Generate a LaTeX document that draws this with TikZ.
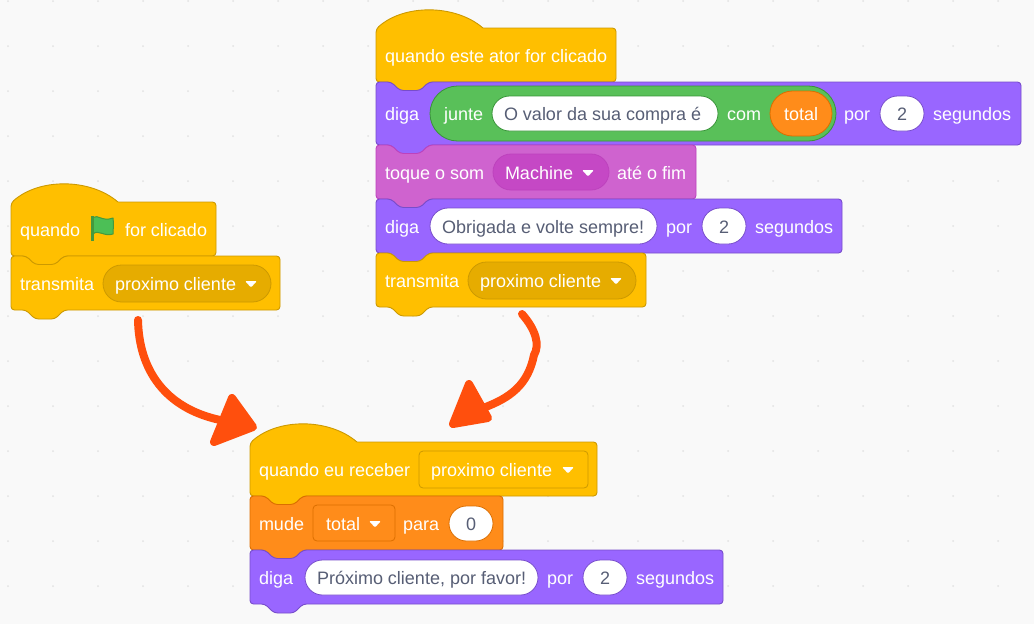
\documentclass[tikz,border=0pt]{standalone}
\usepackage{fontspec}
\setmainfont{Liberation Sans}
\definecolor{bgc}{HTML}{F9F9F9}
\definecolor{dotc}{HTML}{E2E2E2}
\definecolor{yel}{HTML}{FFBF00}
\definecolor{yels}{HTML}{CC9900}
\definecolor{yeli}{HTML}{E6AC00}
\definecolor{pur}{HTML}{9966FF}
\definecolor{purs}{HTML}{774DCB}
\definecolor{snd}{HTML}{CF63CF}
\definecolor{snds}{HTML}{BD42BD}
\definecolor{sndi}{HTML}{C548C5}
\definecolor{opg}{HTML}{59C059}
\definecolor{opgs}{HTML}{389438}
\definecolor{var}{HTML}{FF8C1A}
\definecolor{vars}{HTML}{DB6E00}
\definecolor{valc}{HTML}{575E75}
\definecolor{mark}{HTML}{FF4F0D}
\definecolor{flagf}{HTML}{4CBF56}
\definecolor{flags}{HTML}{45993D}
\tikzset{
 x=1pt,y=-1pt,
 lbl/.style={anchor=base west,inner sep=0pt,outer sep=0pt,text=white,font=\fontsize{18}{20}\selectfont},
 val/.style={lbl,text=valc},
 pillshape/.style={inner sep=0pt,outer sep=0pt,line width=0.8pt},
 blockline/.style={line width=0.9pt,line join=round},
 mymark/.style={draw=mark,line width=8pt,line cap=round,line join=round},
 myhead/.style={draw=mark,fill=mark,line width=8pt,line join=round},
}
% block: fill, stroke, x, top, right, bottom
\newcommand{\blk}[6]{\draw[blockline,fill=#1,draw=#2,rounded corners=3.5pt]
 (#3,#4+20) -- (#3,#4) -- (#3+15,#4) -- (#3+24,#4+8.5) -- (#3+44,#4+8.5) -- (#3+53,#4) -- (#5,#4) -- (#5,#6)
 -- (#3+53,#6) -- (#3+44,#6+9) -- (#3+24,#6+9) -- (#3+15,#6) -- (#3,#6) -- cycle;}
\newcommand{\hatblk}[6]{\draw[blockline,fill=#1,draw=#2,rounded corners=3.5pt]
 (#3,#4+20) -- (#3,#4+1) {[sharp corners] .. controls (#3+28,#4-24) and (#3+79,#4-24) .. (#3+107,#4)} -- (#5,#4) -- (#5,#6)
 -- (#3+53,#6) -- (#3+44,#6+9) -- (#3+24,#6+9) -- (#3+15,#6) -- (#3,#6) -- cycle;}
% pill: name, x1, x2, y1, y2, fill, stroke, radius
\newcommand{\pill}[8]{\node[pillshape,fill=#6,draw=#7,rounded corners=#8,minimum width=#3-#2,minimum height=#5-#4] (#1) at ({(#2+#3)/2},{(#4+#5)/2}) {};}
% text: name, x, centre y, style, text
\newcommand{\txt}[5]{\node[#4] (#1) at (#2,#3+6) {#5};}
% menu arrow: x centre, y centre
\newcommand{\menuarrow}[2]{\fill[white,rounded corners=1.2pt,line join=round] (#1-6,#2-3) -- (#1+6,#2-3) -- (#1,#2+3.4) -- cycle;}
\begin{document}
\begin{tikzpicture}
\useasboundingbox (0,0) rectangle (1034,624);
\fill[bgc] (0,0) rectangle (1034,624);
\foreach \i in {0,...,22}{\foreach \j in {0,...,13}{
 \fill[dotc] ({8+45*\i},{1+45*\j}) circle (1pt);}}

% left stack
\hatblk{yel}{yels}{11}{202}{216}{256}
\blk{yel}{yels}{11}{256}{280}{310}
\txt{a1}{20}{230}{lbl}{quando}
\fill[draw=flags,fill=flagf,line width=1pt,line join=round] (93,217.5) .. controls (98,214) and (102,222) .. (113,218) .. controls (114,224) and (113,230) .. (113,234) .. controls (104,237) and (98,229) .. (93,234) -- cycle;
\draw[flags,line width=2.2pt] (92.5,216) -- (92.5,241);
\txt{a2}{125}{230}{lbl}{for clicado}
\txt{a3}{20}{284}{lbl}{transmita}
\pill{a4}{103}{271}{265}{302}{yeli}{yels}{18.5pt}
\txt{a5}{115}{284}{lbl}{proximo cliente}
\menuarrow{251}{284}

% top stack
\hatblk{yel}{yels}{376}{28}{616}{82}
\blk{pur}{purs}{376}{82}{1021}{145}
\blk{snd}{snds}{376}{145}{696}{199}
\blk{pur}{purs}{376}{199}{842}{253}
\blk{yel}{yels}{376}{253}{646}{307}
\txt{b1}{385}{56}{lbl}{quando este ator for clicado}
\txt{b2}{385}{114}{lbl}{diga}
\pill{b3}{430}{836}{86}{141}{opg}{opgs}{27.5pt}
\txt{b4}{444}{114}{lbl}{junte}
\pill{b5}{492}{718}{96}{131}{white}{opgs}{17.5pt}
\txt{b6}{504}{114}{val}{O valor da sua compra é}
\txt{b7}{727}{114}{lbl}{com}
\pill{b8}{770}{832}{91}{136}{var}{vars}{22.5pt}
\txt{b9}{784}{114}{lbl}{total}
\txt{b10}{844}{114}{lbl}{por}
\pill{b11}{880}{924}{96}{131}{white}{purs}{17.5pt}
\txt{b12}{897}{114}{val}{2}
\txt{b13}{933}{114}{lbl}{segundos}
\txt{c1}{385}{173}{lbl}{toque o som}
\pill{c2}{493}{609}{154}{190}{sndi}{snds}{18pt}
\txt{c3}{505}{173}{lbl}{Machine}
\menuarrow{588}{173}
\txt{c5}{617}{173}{lbl}{até o fim}
\txt{d1}{385}{227}{lbl}{diga}
\pill{d2}{430}{657}{208}{244}{white}{purs}{18pt}
\txt{d3}{442}{227}{val}{Obrigada e volte sempre!}
\txt{d4}{666}{227}{lbl}{por}
\pill{d5}{702}{746}{208}{244}{white}{purs}{18pt}
\txt{d6}{719}{227}{val}{2}
\txt{d7}{755}{227}{lbl}{segundos}
\txt{e1}{385}{281}{lbl}{transmita}
\pill{e2}{468}{636}{262}{299}{yeli}{yels}{18.5pt}
\txt{e3}{480}{281}{lbl}{proximo cliente}
\menuarrow{616}{281}

% bottom stack
\hatblk{yel}{yels}{250}{442}{597}{496}
\blk{var}{vars}{250}{496}{503}{550}
\blk{pur}{purs}{250}{550}{723}{604}
\txt{f1}{259}{470}{lbl}{quando eu receber}
\pill{f2}{419}{588}{451}{488}{yel}{yels}{4pt}
\txt{f3}{431}{470}{lbl}{proximo cliente}
\menuarrow{568}{470}
\txt{g1}{259}{524}{lbl}{mude}
\pill{g2}{313}{395}{505}{541}{var}{vars}{4pt}
\txt{g3}{326}{524}{lbl}{total}
\menuarrow{375}{524}
\txt{g5}{403}{524}{lbl}{para}
\pill{g6}{449}{493}{506}{541}{white}{vars}{17.5pt}
\txt{g7}{466}{524}{val}{0}
\txt{h1}{259}{578}{lbl}{diga}
\pill{h2}{305}{538}{560}{595}{white}{purs}{17.5pt}
\txt{h3}{317}{578}{val}{Próximo cliente, por favor!}
\txt{h4}{547}{578}{lbl}{por}
\pill{h5}{583}{627}{560}{595}{white}{purs}{17.5pt}
\txt{h6}{600}{578}{val}{2}
\txt{h7}{636}{578}{lbl}{segundos}

% hand-drawn arrows
\coordinate (p1) at (138,320);
\coordinate (p2) at (220,420);
\coordinate (q1) at (522,314);
\coordinate (q2) at (483,408);
\draw[mymark] (p1) .. controls (139,370) and (165,408) .. (p2);
\draw[myhead] (232,398) -- (253,427) -- (214,442) -- cycle;
\draw[mymark] (q1) .. controls (536,330) and (540,345) .. (534,355) .. controls (528,385) and (510,398) .. (q2);
\draw[myhead] (469,384) -- (488,418) -- (453,424) -- cycle;
\end{tikzpicture}
\end{document}
